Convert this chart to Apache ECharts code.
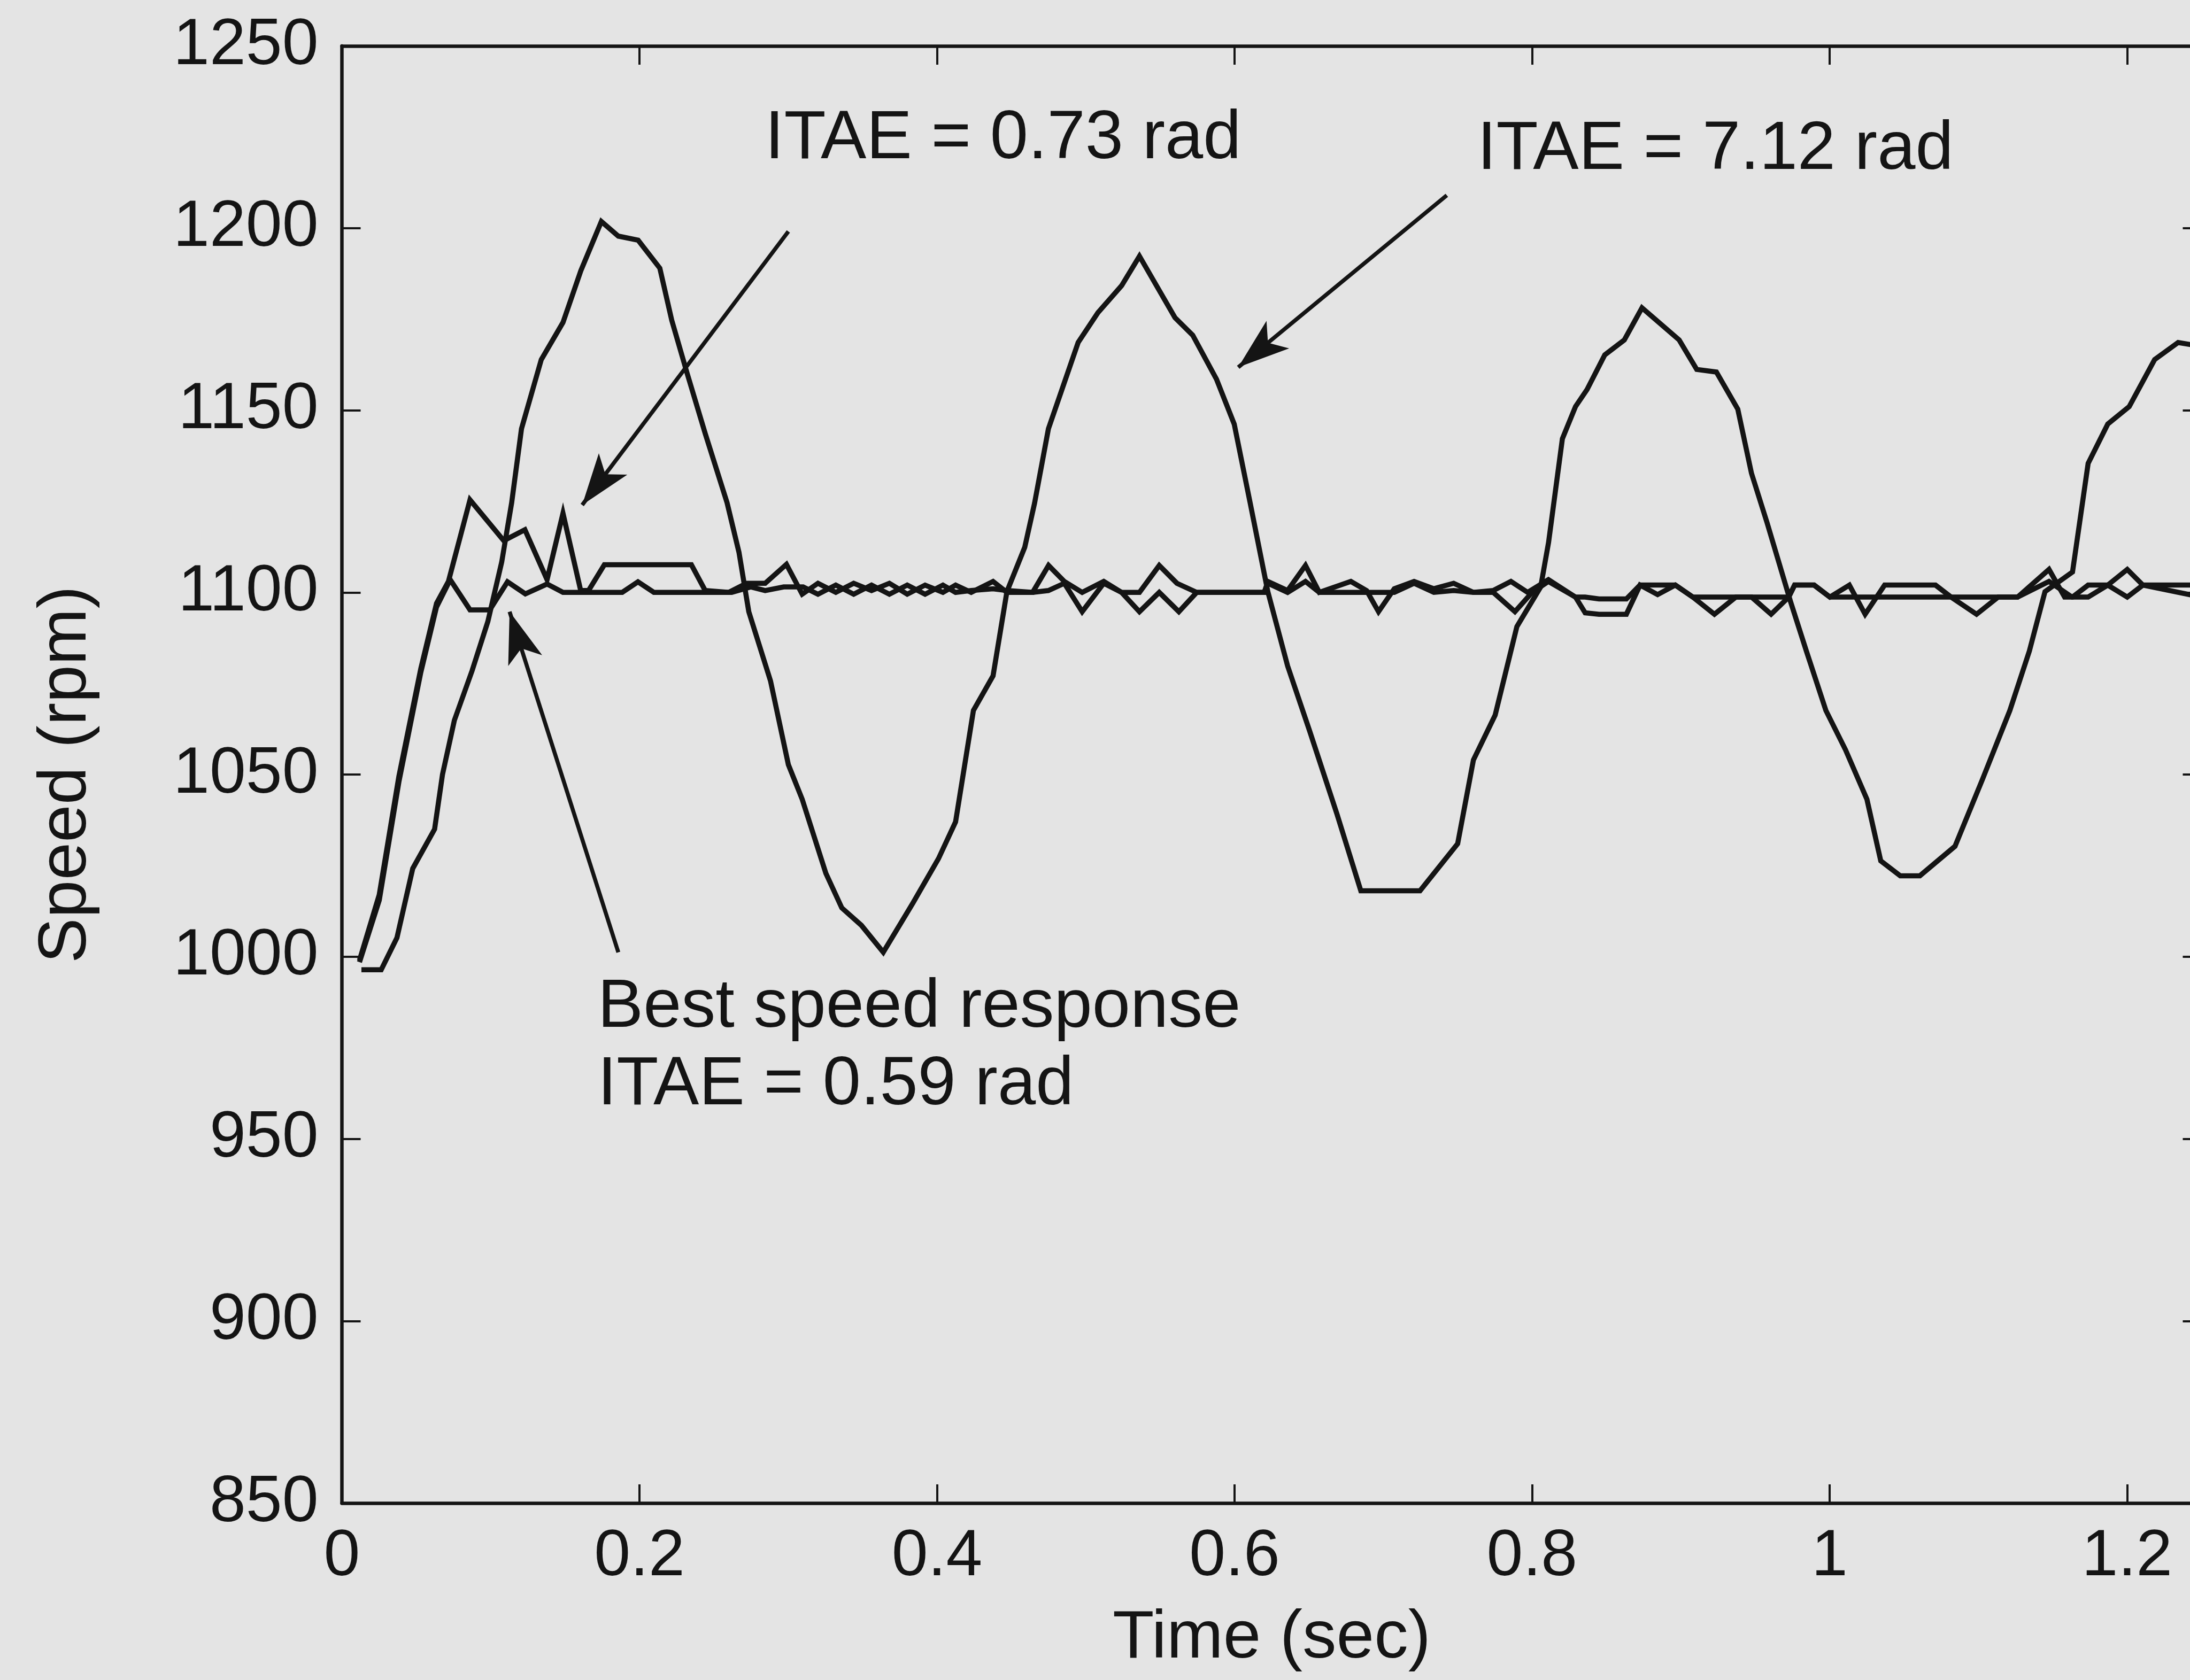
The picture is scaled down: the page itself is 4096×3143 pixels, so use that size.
<!DOCTYPE html>
<html><head><meta charset="utf-8">
<script src="https://cdn.jsdelivr.net/npm/echarts@6/dist/echarts.min.js"></script>
<style>html,body{margin:0;padding:0;background:#e4e4e4;}#c{width:4096px;height:3143px;}</style>
</head><body><div id="c"></div><script>
// ---- data (time in s, speed in rpm) ----
const xAxisRange = [0, 1.25];
const xTickStep = 0.2;
const yAxisRange = [850, 1250];
const yTickStep = 50;

// ITAE = 7.12 rad (large oscillation)
const speedItae712 = [[0.0131,996.4],[0.0264,996.4],[0.037,1005.2],[0.0476,1024.2],[0.0623,1035],[0.0676,1050],[0.0756,1064.9],[0.0875,1078.5],[0.0981,1092],[0.1074,1108.3],[0.1141,1124.6],[0.1207,1144.9],[0.134,1163.9],[0.1486,1174.1],[0.1606,1188.3],[0.1744,1201.8],[0.1858,1197.8],[0.1991,1196.7],[0.2137,1189],[0.2217,1174.7],[0.2323,1159.8],[0.2443,1143.5],[0.2589,1124.6],[0.2669,1111],[0.2735,1094.7],[0.2881,1075.7],[0.3001,1052.7],[0.3094,1043.2],[0.3253,1022.9],[0.336,1013.4],[0.3492,1008.6],[0.3639,1001.2],[0.3838,1014.7],[0.401,1026.9],[0.4125,1037],[0.4245,1067.6],[0.4377,1077.1],[0.447,1100.2],[0.459,1112.4],[0.4656,1124.5],[0.4749,1144.9],[0.4949,1168.6],[0.5082,1176.8],[0.5241,1184.2],[0.5361,1192.3],[0.56,1175.4],[0.5719,1170.6],[0.5879,1158.5],[0.5998,1146.2],[0.6105,1124.6],[0.6224,1100.2],[0.6357,1079.8],[0.6503,1062.2],[0.6689,1039.1],[0.6849,1018.1],[0.7247,1018.1],[0.75,1031],[0.7606,1054],[0.7752,1066.3],[0.7898,1090.6],[0.8058,1101.5],[0.8111,1113.7],[0.8204,1142.2],[0.8292,1151],[0.837,1155.7],[0.8489,1165.2],[0.862,1169.3],[0.8739,1178.1],[0.8989,1169.3],[0.9107,1161.2],[0.9239,1160.5],[0.9383,1150.3],[0.9475,1132.7],[0.958,1119.1],[0.9738,1097.4],[0.9844,1083.9],[0.9975,1067.6],[1.0107,1056.8],[1.0251,1043.2],[1.0344,1026.3],[1.0475,1022.2],[1.0607,1022.2],[1.0843,1030.3],[1.1027,1048.6],[1.1212,1067.6],[1.1343,1083.9],[1.1448,1100.2],[1.1633,1105.6],[1.1738,1135.4],[1.187,1146.2],[1.2014,1151],[1.2185,1163.9],[1.2343,1168.6],[1.25,1167.5]];

// ITAE = 0.73 rad
const speedItae073 = [[0.0118,999],[0.0251,1017],[0.0383,1049.5],[0.053,1079],[0.0636,1097],[0.0716,1103],[0.0861,1125.4],[0.1088,1114.2],[0.123,1117.2],[0.1379,1103.5],[0.1486,1121.7],[0.1605,1100.5],[0.1658,1100.5],[0.1764,1107.6],[0.2349,1107.6],[0.2442,1100.5],[0.26,1100],[0.272,1102.5],[0.2845,1102.5],[0.2988,1107.7],[0.3094,1099.5],[0.32,1102.5],[0.332,1100],[0.344,1102.5],[0.356,1100.5],[0.368,1102.5],[0.38,1099.5],[0.392,1102],[0.404,1100],[0.4125,1102],[0.423,1100],[0.4377,1103],[0.447,1100],[0.4643,1100],[0.475,1107.4],[0.4856,1103],[0.4976,1100],[0.5121,1103],[0.5241,1100],[0.5361,1100],[0.5494,1107.4],[0.5613,1102.5],[0.5746,1100],[0.62,1100],[0.6224,1103],[0.6357,1100.5],[0.6477,1107.4],[0.657,1100],[0.6782,1103],[0.6888,1100.5],[0.6968,1094.7],[0.7074,1101],[0.7207,1103],[0.734,1101],[0.7473,1102.5],[0.7606,1100],[0.7739,1100.5],[0.7858,1103],[0.797,1100],[0.811,1103.5],[0.8292,1098.7],[0.8357,1094.4],[0.845,1094],[0.8634,1094],[0.8726,1102],[0.8844,1099.4],[0.8963,1102],[0.9081,1098.7],[0.9226,1094],[0.937,1098.7],[0.9476,1098.7],[0.9607,1094],[0.9725,1098.7],[0.9765,1102],[0.9896,1102],[1.0002,1098.7],[1.0133,1102],[1.0239,1094],[1.037,1102],[1.0712,1102],[1.0817,1098.7],[1.0988,1094],[1.1133,1098.7],[1.1264,1098.7],[1.1475,1106.3],[1.158,1098.7],[1.1633,1098.7],[1.1738,1102],[1.187,1102],[1.2001,1106.3],[1.2106,1102],[1.25,1102]];

// ITAE = 0.59 rad (best speed response)
const speedItae059 = [[0.0118,998.5],[0.0251,1015.5],[0.0383,1048],[0.053,1078],[0.0636,1096],[0.0728,1103.5],[0.0861,1095.2],[0.0994,1095.2],[0.1113,1102.9],[0.1233,1099.6],[0.1379,1102.3],[0.1486,1100],[0.1884,1100],[0.199,1102.9],[0.2097,1100],[0.262,1100],[0.275,1101.5],[0.2845,1100.5],[0.297,1101.5],[0.31,1101.5],[0.32,1099.5],[0.332,1102],[0.344,1099.5],[0.356,1102],[0.368,1099.5],[0.38,1102],[0.392,1099.5],[0.404,1102],[0.4125,1100],[0.423,1100.5],[0.4377,1101],[0.447,1100.5],[0.4643,1100],[0.4749,1100.5],[0.4856,1102.5],[0.4976,1094.7],[0.5121,1102.5],[0.5241,1100],[0.5361,1094.7],[0.5494,1100],[0.5626,1094.7],[0.5746,1100],[0.62,1100],[0.6224,1102.5],[0.6357,1100],[0.6477,1103],[0.657,1100],[0.6782,1100],[0.6968,1100],[0.7074,1100],[0.7207,1102.5],[0.734,1100],[0.7473,1100.5],[0.7606,1100],[0.7739,1100],[0.7885,1094.7],[0.8,1100],[0.811,1103],[0.8292,1098.7],[0.8357,1098.7],[0.845,1098.2],[0.8634,1098.2],[0.8726,1102],[0.8844,1102],[0.8963,1102],[0.9081,1098.7],[0.9226,1098.7],[0.9607,1098.7],[0.9725,1098.7],[0.9765,1102],[0.9896,1102],[1.0002,1098.7],[1.1264,1098.7],[1.1475,1103],[1.163,1098.7],[1.1738,1098.7],[1.187,1102],[1.2001,1098.7],[1.2106,1102],[1.25,1098.7]];

// annotations: text and anchor (data coords), arrows (from, to)
const annotationTexts = ['ITAE = 0.73 rad', 'ITAE = 7.12 rad', 'Best speed response', 'ITAE = 0.59 rad'];
const annotationAnchors = [[0.2844, 1224.3], [0.7632, 1221.4], [0.1719, 985.9], [0.1719, 964.6]];
const arrowFrom = [[0.3001, 1199.1], [0.7427, 1209], [0.1858, 1001.2]];
const arrowTo = [[0.1615, 1124], [0.6025, 1161.8], [0.1127, 1094.7]];

const xAxisTitle = 'Time (sec)';
const yAxisTitle = 'Speed (rpm)';

// ---- chart ----
const FONT = '"Liberation Sans", Arial, Helvetica, sans-serif';
const INK = '#141414';
const chart = echarts.init(document.getElementById('c'), null, {renderer: 'canvas'});

const tickStyle = {show: true, inside: true, length: 35, lineStyle: {color: INK, width: 4}};
const axisLineStyle = {show: true, onZero: false, lineStyle: {color: INK, width: 6.5}};
const ARROW_H = 96, ARROW_W = 50;

const lineSeries = (name, data) => ({
  name, type: 'line', data, showSymbol: false, symbol: 'none', silent: true,
  xAxisIndex: 0, yAxisIndex: 0, clip: true,
  lineStyle: {color: INK, width: 9.5, join: 'miter'}, z: 3
});

const option = {
  animation: false,
  backgroundColor: '#e4e4e4',
  grid: {left: 639.5, top: 86, width: 3478, height: 2726, containLabel: false, outerBoundsMode: 'none'},
  xAxis: [{
    type: 'value', min: xAxisRange[0], max: xAxisRange[1], interval: xTickStep, position: 'bottom',
    axisLine: axisLineStyle, axisTick: tickStyle, splitLine: {show: false},
    axisLabel: {show: true, showMaxLabel: false, margin: 40, color: INK, fontSize: 122, fontFamily: FONT,
      formatter: v => String(Math.round(v * 10) / 10)},
    name: xAxisTitle, nameLocation: 'middle', nameGap: 190,
    nameTextStyle: {color: INK, fontSize: 127, fontFamily: FONT}
  }, {
    type: 'value', min: xAxisRange[0], max: xAxisRange[1], interval: xTickStep, position: 'top',
    axisLine: axisLineStyle, axisTick: tickStyle, splitLine: {show: false}, axisLabel: {show: false}
  }],
  yAxis: [{
    type: 'value', min: yAxisRange[0], max: yAxisRange[1], interval: yTickStep, position: 'left',
    axisLine: axisLineStyle, axisTick: tickStyle, splitLine: {show: false},
    axisLabel: {show: true, margin: 44, color: INK, fontSize: 122, fontFamily: FONT,
      formatter: v => String(v)},
    name: yAxisTitle, nameLocation: 'middle', nameGap: 451,
    nameTextStyle: {color: INK, fontSize: 127, fontFamily: FONT}
  }, {
    type: 'value', min: yAxisRange[0], max: yAxisRange[1], interval: yTickStep, position: 'right',
    axisLine: axisLineStyle, axisTick: tickStyle, splitLine: {show: false}, axisLabel: {show: false}
  }],
  series: [
    lineSeries('ITAE = 7.12 rad', speedItae712),
    lineSeries('ITAE = 0.73 rad', speedItae073),
    lineSeries('ITAE = 0.59 rad', speedItae059),
    {
      type: 'line', name: 'arrows', data: [], silent: true, symbol: 'none',
      markLine: {
        silent: true, animation: false, precision: 4,
        lineStyle: {color: INK, width: 7.5, type: 'solid', opacity: 1},
        itemStyle: {color: INK},
        label: {show: false},
        emphasis: {disabled: true},
        data: arrowFrom.map((f, i) => [
          {coord: f, symbol: 'none'},
          {coord: arrowTo[i], symbol: 'arrow', symbolSize: [ARROW_W, ARROW_H]}
        ])
      },
      z: 4
    },
    {
      type: 'scatter', name: 'notes', silent: true, symbolSize: 0,
      itemStyle: {color: INK, opacity: 1},
      data: annotationAnchors.map((p, i) => ({value: p, name: annotationTexts[i]})),
      label: {show: true, position: 'right', distance: 0, formatter: p => p.name,
        color: INK, opacity: 1, textBorderWidth: 0, fontSize: 128, fontFamily: FONT},
      z: 5
    }
  ]
};
chart.setOption(option);
</script></body></html>
